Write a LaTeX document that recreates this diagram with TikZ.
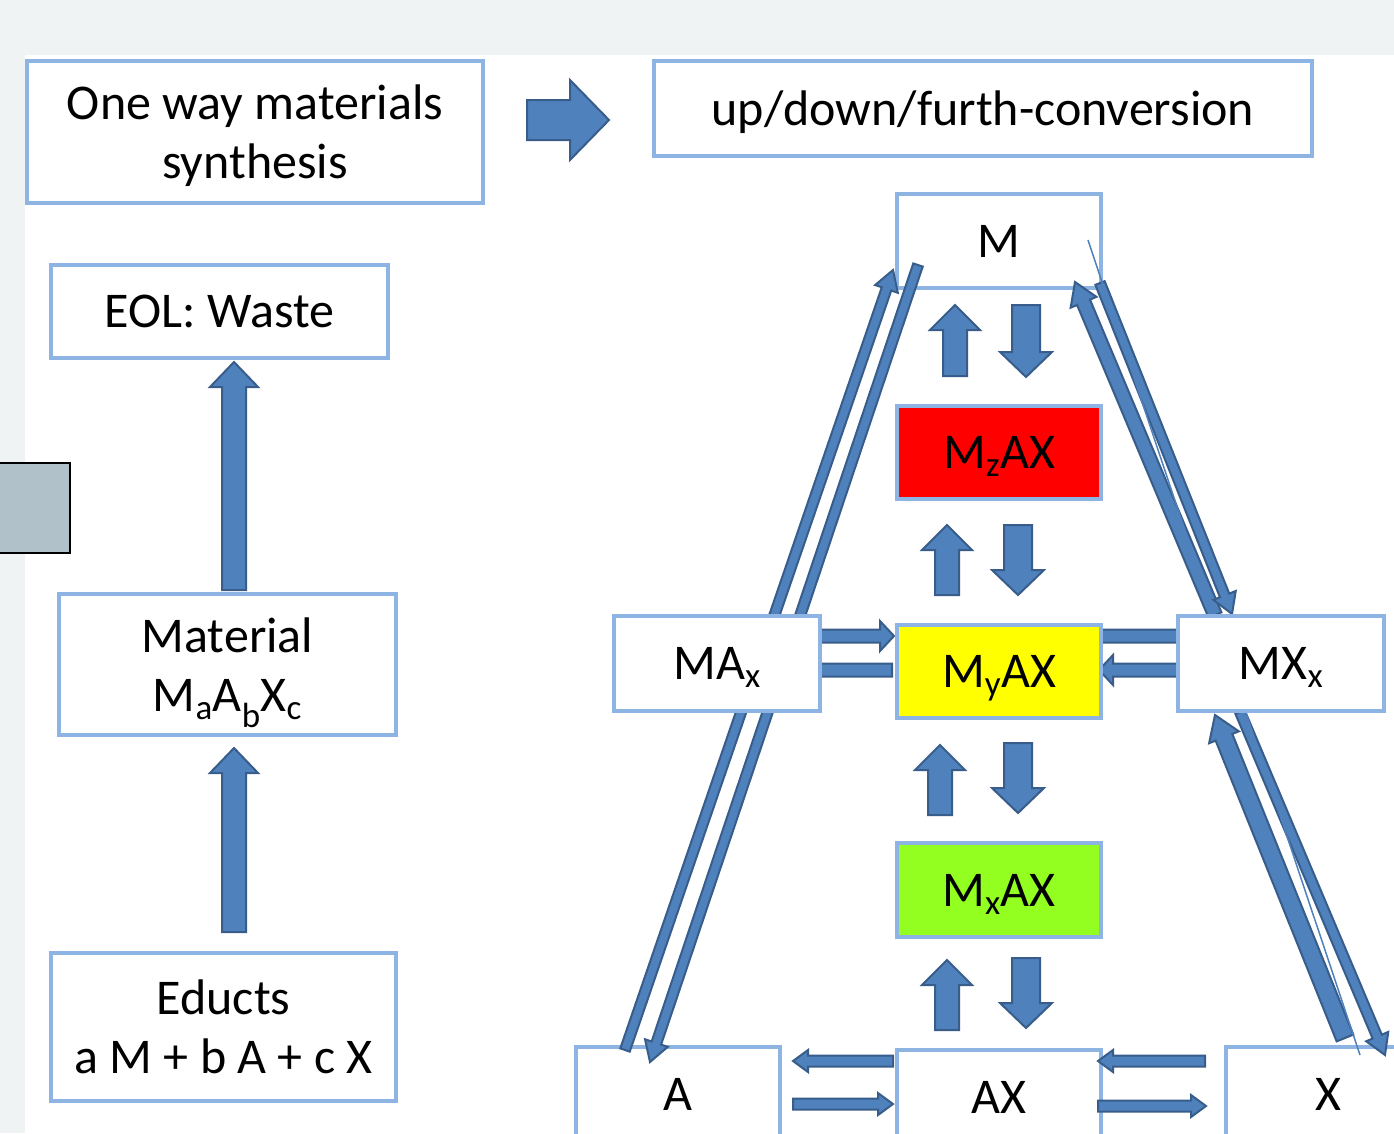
\documentclass[tikz,border=0pt]{standalone}
\usepackage{fontspec}
\setmainfont{Carlito}
\usetikzlibrary{calc}
\definecolor{abl}{RGB}{79,129,189}
\definecolor{adk}{RGB}{56,93,138}
\definecolor{bbd}{RGB}{141,180,226}
\definecolor{bgg}{RGB}{239,243,244}
\definecolor{gboxc}{RGB}{176,193,202}
\definecolor{gfill}{RGB}{146,255,32}
\definecolor{yfill}{RGB}{255,255,0}
\tikzset{
 box/.style={draw=bbd, line width=4pt, fill=white, inner sep=0pt, outer sep=0pt, align=center, text depth=0pt, font=\fontsize{50}{59}\selectfont},
 barrowsty/.style={draw=adk, fill=abl, line width=2pt, line join=miter},
}
\newcommand\barrow[5]{%
 \coordinate (ba-s) at (#1);
 \coordinate (ba-e) at (#2);
 \coordinate (ba-h) at ($(ba-e)!#5!(ba-s)$);
 \path[barrowsty] ($(ba-s)!#3!90:(ba-e)$) -- ($(ba-h)!#3!-90:(ba-s)$) -- ($(ba-h)!#4!-90:(ba-s)$) -- (ba-e) -- ($(ba-h)!#4!90:(ba-s)$) -- ($(ba-h)!#3!90:(ba-s)$) -- ($(ba-s)!#3!-90:(ba-e)$) -- cycle;}
\begin{document}
\begin{tikzpicture}[x=1pt,y=-1pt]
\useasboundingbox (0,0) rectangle (1394,1133);
\fill[bgg] (0,0) rectangle (1394,1133);
\fill[white] (25,55) rectangle (1394,1133);
\node[draw=black, line width=2pt, fill=gboxc, minimum width=80pt, minimum height=90pt, inner sep=0pt] (gb) at (30,508) {};

% left column
\node[box, minimum width=456pt, minimum height=142pt] (syn) at (255,132) {One way materials\\synthesis};
\node[box, minimum width=658pt, minimum height=95pt] (conv) at (983,108.5) {up/down/furth-conversion};
\node[box, minimum width=337pt, minimum height=93pt] (eol) at (219.5,311.5) {EOL: Waste};
\node[box, minimum width=337pt, minimum height=141pt] (mat) at (227.5,664.5) {Material\\M\textsubscript{a}A\textsubscript{b}X\textsubscript{c}};
\node[box, minimum width=345pt, minimum height=148pt] (edu) at (223.5,1027) {Educts\\a M + b A + c X};

\barrow{$(syn.east)+(44,-12)$}{$(conv.west)+(-45,11.5)$}{20pt}{40pt}{39pt}
\barrow{$(mat.north)+(6.5,-4)$}{$(eol.south)+(14.5,4)$}{12pt}{24pt}{25pt}
\barrow{$(edu.north)+(10.5,-21)$}{$(mat.south)+(6.5,13)$}{12pt}{24pt}{25pt}

% right part: corner boxes first
\node[box, minimum width=204pt, minimum height=94pt] (M) at (999,241) {M};
\node[box, minimum width=204pt, minimum height=94pt] (A) at (678,1094) {A};
\node[box, minimum width=204pt, minimum height=94pt] (X) at (1328,1094) {X};
\node[box, minimum width=204pt, minimum height=94pt] (AX) at (999,1097) {AX};

% diagonal arrows
\barrow{$(A.north west)+(49,3)$}{$(M.south west)+(-4,-18)$}{5pt}{12pt}{20pt}
\barrow{$(M.south west)+(21,-23)$}{$(A.north west)+(74,15)$}{5pt}{12pt}{20pt}
\coordinate (mxnw) at (1178,616);
\coordinate (mxsw) at (1178,711);
\barrow{$(mxnw)+(37,-1)$}{$(M.south east)+(-26,-6)$}{7pt}{14pt}{22pt}
\barrow{$(M.south east)+(-1,-5)$}{$(mxnw)+(54,-2)$}{5pt}{12pt}{20pt}
\barrow{$(X.north west)+(119,-9)$}{$(mxsw)+(37,4)$}{9pt}{16pt}{24pt}
\barrow{$(mxsw)+(62,1)$}{$(X.north west)+(159,8)$}{5pt}{12pt}{20pt}
\draw[abl, line width=1.5pt] ($(M.east)+(-13,-1)$) -- ($(X.north west)+(134,8)$);

% horizontal arrows (heads partly hidden by boxes)
\coordinate (maxe) at (820,663.5);
\coordinate (myw) at (897,671.5);
\coordinate (mye) at (1101,671.5);
\barrow{$(maxe)+(0,-27.5)$}{$(myw)+(-3,-35.5)$}{6.5pt}{15pt}{14pt}
\barrow{$(myw)+(-5,-1.5)$}{$(maxe)+(-20,6.5)$}{6.5pt}{15pt}{14pt}
\barrow{$(mye)+(0,-35.5)$}{$(mxnw)+(20,20)$}{6.5pt}{15pt}{14pt}
\barrow{$(mxsw)+(0,-41)$}{$(mye)+(-2,-1.5)$}{6.5pt}{15pt}{14pt}

% middle boxes
\node[box, minimum width=206pt, minimum height=95pt] (MAx) at (717,663.5) {MA\textsubscript{x}};
\node[box, minimum width=206pt, minimum height=95pt] (MXx) at (1281,663.5) {MX\textsubscript{x}};
\node[box, fill=red, minimum width=204pt, minimum height=93pt] (Mz) at (999,452.5) {M\textsubscript{z}AX};
\node[box, fill=yfill, minimum width=204pt, minimum height=93pt] (My) at (999,671.5) {M\textsubscript{y}AX};
\node[box, fill=gfill, minimum width=204pt, minimum height=94pt] (Mx) at (999,890) {M\textsubscript{x}AX};

% bottom horizontal arrows
\barrow{$(AX.west)+(-4,-36)$}{$(A.east)+(13,-33)$}{5.5pt}{11pt}{15pt}
\barrow{$(A.east)+(13,10)$}{$(AX.west)+(-4,7)$}{5.5pt}{11pt}{15pt}
\barrow{$(X.west)+(-21,-33)$}{$(AX.east)+(-3,-36)$}{5.5pt}{11pt}{15pt}
\barrow{$(AX.east)+(-3,9)$}{$(X.west)+(-20,12)$}{5.5pt}{11pt}{15pt}

% vertical pairs
\barrow{$(Mz.north)+(-44,-30)$}{$(M.south)+(-44,17)$}{12pt}{25pt}{25pt}
\barrow{$(M.south)+(27,17)$}{$(Mz.north)+(27,-29)$}{14pt}{26pt}{25pt}
\barrow{$(My.north)+(-52,-30)$}{$(Mz.south)+(-52,26)$}{12pt}{25pt}{25pt}
\barrow{$(Mz.south)+(19,26)$}{$(My.north)+(19,-30)$}{14pt}{26pt}{25pt}
\barrow{$(Mx.north)+(-59,-28)$}{$(My.south)+(-59,27)$}{12pt}{25pt}{25pt}
\barrow{$(My.south)+(19,25)$}{$(Mx.north)+(19,-30)$}{14pt}{26pt}{25pt}
\barrow{$(AX.north)+(-52,-20)$}{$(Mx.south)+(-52,23)$}{12pt}{25pt}{25pt}
\barrow{$(Mx.south)+(27,21)$}{$(AX.north)+(27,-22)$}{14pt}{26pt}{25pt}
\end{tikzpicture}
\end{document}
